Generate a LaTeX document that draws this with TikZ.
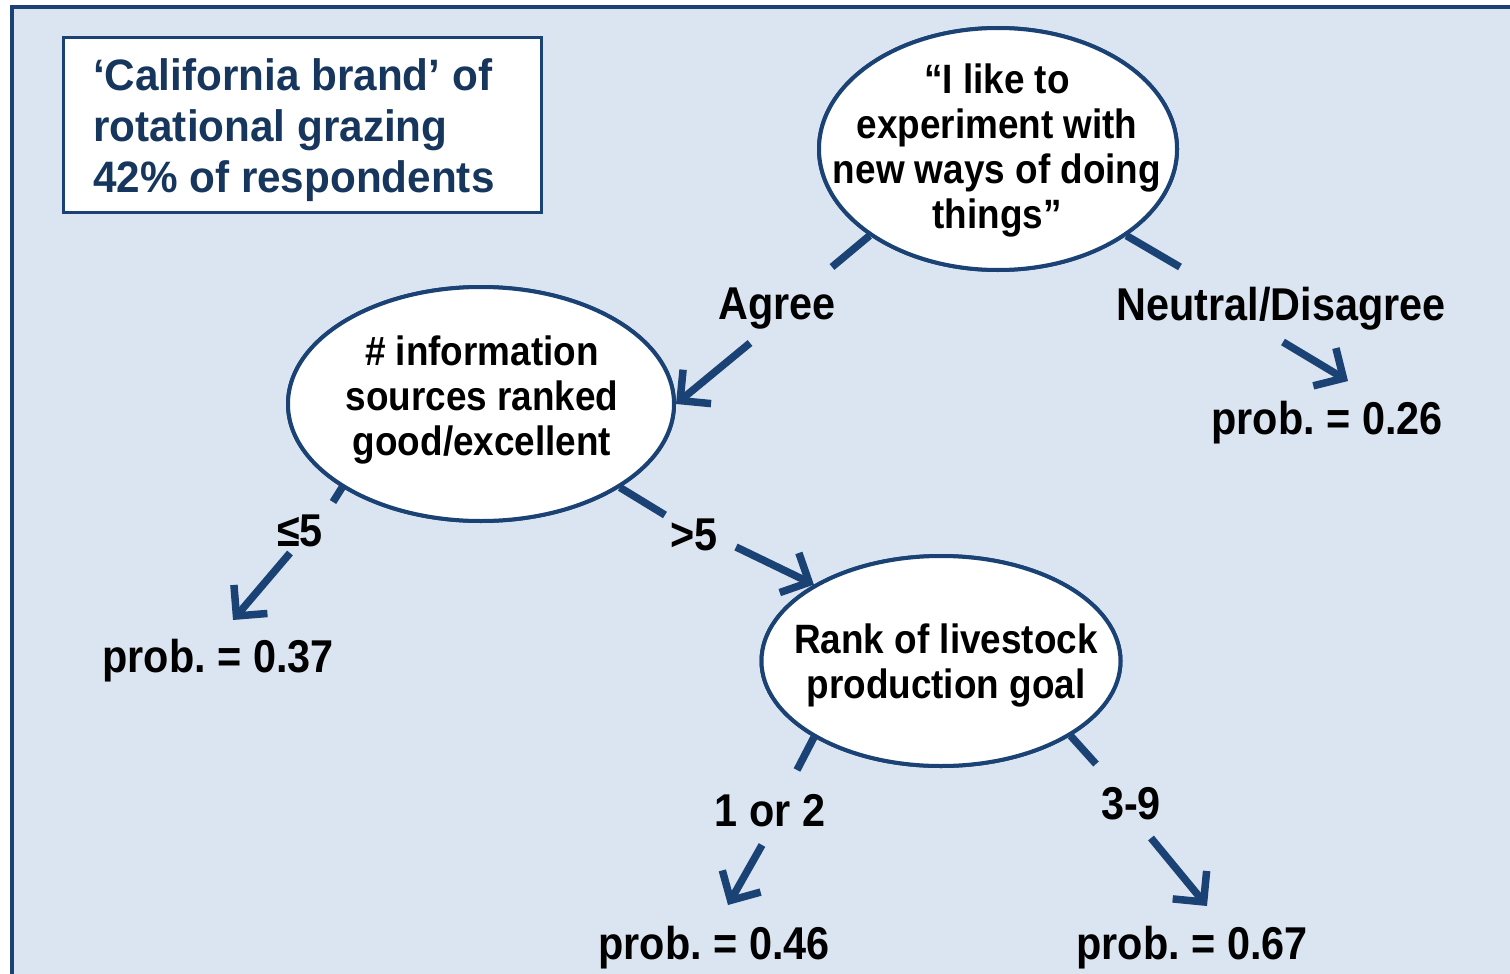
\documentclass[tikz,border=0pt]{standalone}
\usepackage{fontspec}
\setmainfont{Liberation Sans}[FakeStretch=0.9]
\newfontfamily\titlefont{Liberation Sans}[FakeStretch=0.96]
\usetikzlibrary{shapes.geometric,arrows.meta}
\definecolor{bgblue}{HTML}{DBE5F1}
\definecolor{lineblue}{HTML}{1B4275}
\definecolor{navy}{HTML}{17365D}
\frenchspacing
\tikzset{
  ell/.style={ellipse, draw=lineblue, line width=4pt, fill=white, inner sep=0pt},
  etext/.style={align=center, font=\bfseries\fontsize{41}{45}\selectfont, text=black, inner sep=0pt},
  lab/.style={font=\bfseries\fontsize{46}{50}\selectfont, text=black, inner sep=0pt},
  stub/.style={draw=lineblue, line width=7.5pt},
  arr/.style={draw=lineblue, line width=7.5pt, -{Straight Barb[length=22pt,width=44pt]}},
}
\begin{document}
\frenchspacing
\begin{tikzpicture}[x=1pt,y=-1pt]
\useasboundingbox (0,0) rectangle (1510,974);
\clip (0,0) rectangle (1510,974);
% frame
\draw[draw=lineblue, line width=4pt, fill=bgblue] (11.5,7.5) rectangle (1540,1010);
% title box
\node[draw=lineblue, line width=3pt, fill=white, minimum width=478pt, minimum height=174pt, inner sep=0pt] (tbox) at (302,125) {};
\node[anchor=west, align=left, inner sep=0pt, text=navy, font=\titlefont\bfseries\fontsize{44}{51}\selectfont] (ttext) at (93,130)
  {‘California brand’ of\\rotational grazing\\42\% of respondents};
% coordinates for free connector ends
\coordinate (s1) at (832,267);
\coordinate (s2) at (1180,267);
\coordinate (s3) at (333,502);
\coordinate (s4) at (665,515);
\coordinate (s5) at (797,770);
\coordinate (s6) at (1096,764);
\coordinate (a1) at (750,343);
\coordinate (a2s) at (1283,342);
\coordinate (a2e) at (1348,381);
\coordinate (a3s) at (290,553);
\coordinate (a3e) at (233,620);
\coordinate (a4s) at (736,547);
\coordinate (a5s) at (762,845);
\coordinate (a5e) at (728,905);
\coordinate (a6s) at (1151,838);
\coordinate (a6e) at (1207,906);
% ellipses
\path (998,149) coordinate (c1) (481,404) coordinate (c2) (941,661) coordinate (c3);
\node[ell, minimum width=358pt, minimum height=242pt] (e1) at (c1) {};
\node[ell, minimum width=386pt, minimum height=234pt] (e2) at (c2) {};
\node[ell, minimum width=359pt, minimum height=210pt] (e3) at (c3) {};
% stubs
\draw[stub] (e1.214) -- (s1);
\draw[stub] (e1.326) -- (s2);
\draw[stub] (e2.211) -- (s3);
\draw[stub] (e2.329) -- (s4);
\draw[stub] (e3.211) -- (s5);
\draw[stub] (e3.330) -- (s6);
% redraw ellipses on top of stubs
\node[ell, minimum width=358pt, minimum height=242pt] at (c1) {};
\node[ell, minimum width=386pt, minimum height=234pt] at (c2) {};
\node[ell, minimum width=359pt, minimum height=210pt] at (c3) {};
% ellipse texts
\node[etext] (t1) at (997,150) {“I like to\\experiment with\\new ways of doing\\things”};
\node[etext] (t2) at (482,400) {\# information\\sources ranked\\good/excellent};
\node[etext] (t3) at (946,665) {Rank of livestock\\production goal};
% labels
\node[lab] (agree) at (777,309) {Agree};
\node[lab] (nd) at (1281,309) {Neutral/Disagree};
\node[lab] (le5) at (300,531) {≤5};
\node[lab] (gt5) at (694,535) {>5};
\node[lab] (l12) at (770,811) {1 or 2};
\node[lab] (l39) at (1131,804) {3-9};
\node[lab] (p26) at (1327,423) {prob. = 0.26};
\node[lab] (p37) at (218,661) {prob. = 0.37};
\node[lab] (p46) at (714,948) {prob. = 0.46};
\node[lab] (p67) at (1192,948) {prob. = 0.67};
% arrows
\draw[arr] (a1) -- (e2.east);
\draw[arr] (a2s) -- (a2e);
\draw[arr] (a3s) -- (a3e);
\draw[arr] (a4s) -- (e3.149);
\draw[arr] (a5s) -- (a5e);
\draw[arr] (a6s) -- (a6e);
\end{tikzpicture}
\end{document}
